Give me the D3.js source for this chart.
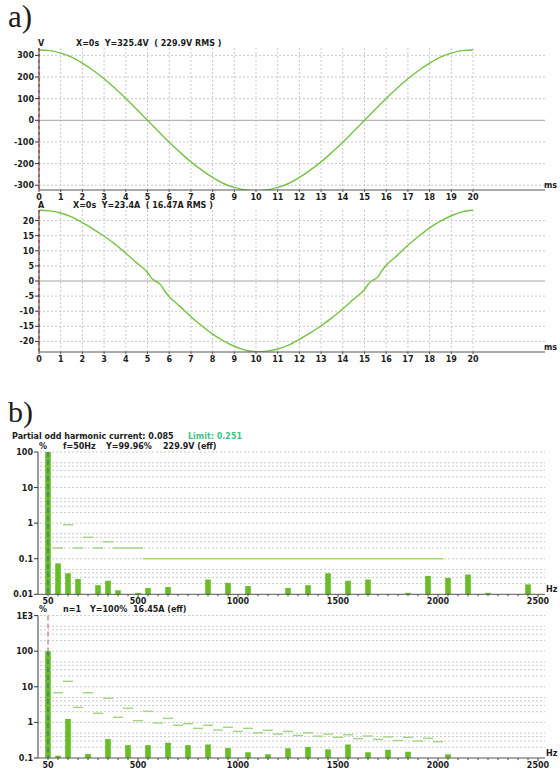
<!DOCTYPE html>
<html>
<head>
<meta charset="utf-8">
<script src="https://cdn.jsdelivr.net/npm/d3@7"></script>
<style>
  html, body { margin: 0; padding: 0; background: #fff; }
  svg { display: block; }
  text { font-family: "DejaVu Sans", Verdana, sans-serif; }
</style>
</head>
<body>
<svg id="chart" width="560" height="769"></svg>
<script>
// ---- waveform data (one mains period, 20 ms) ----
const voltageTimeMs = [0,0.5,1,1.5,2,2.5,3,3.5,4,4.5,5,5.5,6,6.5,7,7.5,8,8.5,9,9.5,10,
  10.5,11,11.5,12,12.5,13,13.5,14,14.5,15,15.5,16,16.5,17,17.5,18,18.5,19,19.5,20];
const voltageV = [325,322,310,292,264,230,192,148,101,51,0,-51,-101,-148,-192,-230,-264,-292,-310,-322,-325,
  -322,-310,-292,-264,-230,-192,-148,-101,-51,0,51,101,148,192,230,264,292,310,322,325];

const currentTimeMs = [0,0.5,1,1.5,2,2.5,3,3.5,4,4.5,5,5.2,5.4,5.6,5.8,6,6.5,7,7.5,8,8.5,9,9.5,10,
  10.5,11,11.5,12,12.5,13,13.5,14,14.5,15,15.2,15.4,15.6,15.8,16,16.5,17,17.5,18,18.5,19,19.5,20];
const currentA = [23.4,23.2,22.5,21.2,19.3,17.2,14.8,12.2,9.2,6.0,2.8,0.8,-0.2,-1.2,-3.4,-5.2,-8.4,-11.8,-14.8,-17.6,-19.8,-21.6,-22.9,-23.4,
  -23.2,-22.5,-21.2,-19.3,-17.2,-14.8,-12.2,-9.2,-6.0,-2.8,-0.8,0.3,1.2,3.4,5.2,8.4,11.8,14.8,17.6,19.8,21.6,22.9,23.4];

const msTicks = [0,1,2,3,4,5,6,7,8,9,10,11,12,13,14,15,16,17,18,19,20];
const voltageTicks = [300,200,100,0,-100,-200,-300];
const currentTicks = [20,15,10,5,0,-5,-10,-15,-20];

// ---- harmonic spectra (% of fundamental) ----
const voltageHarmHz = [50,100,150,200,300,350,400,500,550,650,850,950,1050,1250,1350,1450,1550,1650,1850,1950,2050,2150,2250,2450];
const voltageHarmPct = [99.96,0.074,0.039,0.027,0.018,0.024,0.013,0.011,0.015,0.016,0.026,0.021,0.017,0.015,0.018,0.039,0.024,0.026,0.011,0.033,0.029,0.036,0.011,0.019];
const voltageLimitHz = [100,150,200,250,300,350,400,450,500,550,600,650,700,750,800,850,900,950,1000,
  1050,1100,1150,1200,1250,1300,1350,1400,1450,1500,1550,1600,1650,1700,1750,1800,1850,1900,1950,2000];
const voltageLimitPct = [0.2,0.9,0.2,0.4,0.2,0.3,0.2,0.2,0.2,0.1,0.1,0.1,0.1,0.1,0.1,0.1,0.1,0.1,0.1,
  0.1,0.1,0.1,0.1,0.1,0.1,0.1,0.1,0.1,0.1,0.1,0.1,0.1,0.1,0.1,0.1,0.1,0.1,0.1,0.1];

const currentHarmHz = [50,100,150,250,350,450,550,650,750,850,950,1050,1150,1250,1350,1450,1550,1650,1750,1850,2050];
const currentHarmPct = [100,0.116,1.25,0.13,0.34,0.23,0.23,0.27,0.23,0.24,0.19,0.145,0.127,0.187,0.204,0.175,0.24,0.145,0.17,0.15,0.127];
const currentLimitHz = voltageLimitHz;
const currentLimitPct = [6.8,14.3,2.65,6.8,1.8,4.75,1.39,2.49,1.12,2.05,0.96,1.30,0.83,0.92,0.68,0.83,0.61,0.73,0.56,
  0.68,0.51,0.60,0.47,0.56,0.43,0.51,0.41,0.47,0.38,0.45,0.35,0.415,0.335,0.39,0.31,0.38,0.30,0.36,0.287];

const hzTicks = [50,500,1000,1500,2000,2500];
const spectrumVLabels = [[100,"100"],[10,"10"],[1,"1"],[0.1,"0.1"],[0.01,"0.01"]];
const spectrumILabels = [[1000,"1E3"],[100,"100"],[10,"10"],[1,"1"],[0.1,"0.1"]];

// ---- styles ----
const C = {
  text: "#1c1c1c",
  axis: "#555",
  grid: "#c9c9c9",
  zero: "#a3a3a3",
  wave: "#76c343",
  bar: "#68bd27",
  limit: "#a3d57e",
  cursorRed: "#c62020",
  cursorPink: "#cf9090",
  cursorBlue: "#3b7d9c",
  limitText: "#3ec487"
};
const serif = "'Liberation Serif', 'Times New Roman', Times, 'DejaVu Serif', serif";
const svg = d3.select("#chart");
const plotRight = 545;

function label(g, x, y, txt, opts = {}) {
  const t = g.append("text").attr("x", x).attr("y", y).text(txt)
    .attr("font-size", opts.size || 8).attr("font-weight", opts.weight || "bold")
    .attr("fill", opts.fill || C.text).attr("text-anchor", opts.anchor || "start");
  if (opts.family) t.style("font-family", opts.family);
  return t;
}

// ---------- part a: time waveforms ----------
label(svg, 8, 27, "a)", { size: 31, weight: "normal", family: serif });

const xT = d3.scaleLinear().domain([0, 20]).range([39, 473]);

function waveformPanel(cfg) {
  const g = svg.append("g");
  const y = cfg.y;
  const [yBot, yTop] = y.range();
  // grid
  g.selectAll(".vg").data(msTicks.filter(d => d > 0)).join("line")
    .attr("x1", d => xT(d)).attr("x2", d => xT(d)).attr("y1", yTop).attr("y2", yBot)
    .attr("stroke", C.grid).attr("stroke-dasharray", "2,2");
  g.selectAll(".hg").data(cfg.ticks.filter(d => d !== 0)).join("line")
    .attr("x1", xT(0)).attr("x2", plotRight).attr("y1", d => y(d)).attr("y2", d => y(d))
    .attr("stroke", C.grid).attr("stroke-dasharray", "2,2");
  g.append("line").attr("x1", xT(0)).attr("x2", plotRight).attr("y1", y(0)).attr("y2", y(0))
    .attr("stroke", C.zero);
  // waveform, clipped to the plot area
  const clipId = "clip" + cfg.id;
  svg.append("clipPath").attr("id", clipId).append("rect")
    .attr("x", xT(0)).attr("y", yTop - 4).attr("width", plotRight - xT(0)).attr("height", yBot - yTop + 4);
  const line = d3.line().x(d => xT(d[0])).y(d => y(d[1])).curve(d3.curveMonotoneX);
  g.append("path").datum(d3.zip(cfg.t, cfg.v)).attr("d", line)
    .attr("fill", "none").attr("stroke", C.wave).attr("stroke-width", 1.4)
    .attr("clip-path", `url(#${clipId})`);
  // axes
  g.append("line").attr("x1", xT(0)).attr("x2", plotRight).attr("y1", yBot).attr("y2", yBot)
    .attr("stroke", C.axis);
  g.append("line").attr("x1", xT(0)).attr("x2", xT(0)).attr("y1", yTop).attr("y2", yBot)
    .attr("stroke", "#333");
  g.append("line").attr("x1", xT(0)).attr("x2", xT(0)).attr("y1", yTop).attr("y2", yBot)
    .attr("stroke", C.cursorRed).attr("stroke-dasharray", "3,3");
  g.selectAll(".yt").data(cfg.ticks).join("line")
    .attr("x1", xT(0) - 4).attr("x2", xT(0)).attr("y1", d => y(d)).attr("y2", d => y(d))
    .attr("stroke", "#333");
  g.selectAll(".yl").data(cfg.ticks).join("text")
    .attr("x", xT(0) - 5).attr("y", d => y(d) + 3).attr("text-anchor", "end")
    .attr("font-size", 8).attr("font-weight", "bold").attr("fill", C.text)
    .text(d => d);
  g.selectAll(".xt").data(msTicks).join("line")
    .attr("x1", d => xT(d)).attr("x2", d => xT(d)).attr("y1", yBot).attr("y2", yBot + 2)
    .attr("stroke", C.axis);
  g.selectAll(".xl").data(msTicks).join("text")
    .attr("x", d => xT(d)).attr("y", yBot + 9.5).attr("text-anchor", "middle")
    .attr("font-size", 8).attr("font-weight", "bold").attr("fill", C.text)
    .text(d => d);
  label(g, 544, yBot - 2, "ms");
  label(g, 38, cfg.headY, cfg.unit);
  label(g, cfg.headX, cfg.headY, cfg.head).style("white-space", "pre");
}

waveformPanel({
  id: "V", y: d3.scaleLinear().domain([-322, 334]).range([190, 48]),
  ticks: voltageTicks, t: voltageTimeMs, v: voltageV,
  unit: "V", head: "X=0s  Y=325.4V  ( 229.9V RMS )", headX: 76, headY: 46
});
waveformPanel({
  id: "I", y: d3.scaleLinear().domain([-23.5, 23.5]).range([352, 210]),
  ticks: currentTicks, t: currentTimeMs, v: currentA,
  unit: "A", head: "X=0s  Y=23.4A  ( 16.47A RMS )", headX: 73, headY: 207.5
});

// ---------- part b: harmonic spectra ----------
label(svg, 8, 422, "b)", { size: 30, weight: "normal", family: serif });
label(svg, 12, 439, "Partial odd harmonic current: 0.085");
label(svg, 188, 439, "Limit: 0.251", { fill: C.limitText });

const xF = d3.scaleLinear().domain([0, 2535]).range([38, plotRight]);
const minorHz = d3.range(50, 2501, 50);
const barHalf = 2.8;

function spectrumPanel(cfg) {
  const g = svg.append("g");
  const y = cfg.y;
  const [yBot, yTop] = y.range();
  // grid at 1..5 x 10^k
  const gridVals = y.ticks().filter(v => {
    const m = v / Math.pow(10, Math.floor(Math.log10(v) + 1e-9));
    return m < 5.5;
  });
  g.selectAll(".hg").data(gridVals.filter(v => v > y.domain()[0] * 1.01)).join("line")
    .attr("x1", xF(0) + 2).attr("x2", plotRight).attr("y1", d => y(d)).attr("y2", d => y(d))
    .attr("stroke", C.grid).attr("stroke-dasharray", "2,2");
  // limit segments
  g.selectAll(".lim").data(d3.zip(cfg.limHz, cfg.limPct)).join("line")
    .attr("x1", d => xF(d[0] - 25)).attr("x2", d => xF(d[0] + 25))
    .attr("y1", d => y(d[1])).attr("y2", d => y(d[1]))
    .attr("stroke", C.limit).attr("stroke-width", 1.4);
  // bars
  g.selectAll(".bar").data(d3.zip(cfg.hz, cfg.pct)).join("rect")
    .attr("x", d => xF(d[0]) - barHalf).attr("width", barHalf * 2)
    .attr("y", d => y(d[1])).attr("height", d => yBot - y(d[1]))
    .attr("fill", C.bar);
  // cursor at the fundamental
  const fx = xF(cfg.hz[0]);
  const fTop = y(cfg.pct[0]);
  if (fTop > yTop + 1) {
    g.append("line").attr("x1", fx).attr("x2", fx).attr("y1", yTop).attr("y2", fTop)
      .attr("stroke", C.cursorPink).attr("stroke-width", 1.5).attr("stroke-dasharray", "5,3");
  }
  g.append("line").attr("x1", fx).attr("x2", fx).attr("y1", fTop).attr("y2", yBot)
    .attr("stroke", C.cursorBlue).attr("stroke-width", 1.5).attr("stroke-dasharray", "5,3");
  // axes
  g.append("line").attr("x1", xF(0)).attr("x2", xF(0)).attr("y1", yTop).attr("y2", yBot)
    .attr("stroke", "#7a7a7a").attr("stroke-width", 1.5);
  g.append("line").attr("x1", xF(0)).attr("x2", plotRight).attr("y1", yBot).attr("y2", yBot)
    .attr("stroke", C.axis);
  g.selectAll(".xt").data(minorHz).join("line")
    .attr("x1", d => xF(d)).attr("x2", d => xF(d)).attr("y1", yBot).attr("y2", d => yBot + (d % 500 === 0 ? 3 : 2))
    .attr("stroke", "#444");
  g.selectAll(".xl").data(hzTicks).join("text")
    .attr("x", d => xF(d)).attr("y", yBot + 10).attr("text-anchor", "middle")
    .attr("font-size", 8).attr("font-weight", "bold").attr("fill", C.text)
    .text(d => d);
  g.selectAll(".yt").data(cfg.labels).join("line")
    .attr("x1", xF(0) - 4).attr("x2", xF(0)).attr("y1", d => y(d[0])).attr("y2", d => y(d[0]))
    .attr("stroke", "#333");
  g.selectAll(".yl").data(cfg.labels).join("text")
    .attr("x", xF(0) - 5).attr("y", d => y(d[0]) + 3).attr("text-anchor", "end")
    .attr("font-size", 8).attr("font-weight", "bold").attr("fill", C.text)
    .text(d => d[1]);
  label(g, 546, yBot - 2, "Hz");
  label(g, 39, cfg.headY, "%");
  cfg.head.forEach(([x, t]) => label(g, x, cfg.headY, t));
}

spectrumPanel({
  y: d3.scaleLog().domain([0.01, 100]).range([594.3, 452]),
  hz: voltageHarmHz, pct: voltageHarmPct, limHz: voltageLimitHz, limPct: voltageLimitPct,
  labels: spectrumVLabels, headY: 449,
  head: [[63, "f=50Hz"], [106, "Y=99.96%"], [163, "229.9V (eff)"]]
});
spectrumPanel({
  y: d3.scaleLog().domain([0.1, 1000]).range([758, 615.6]),
  hz: currentHarmHz, pct: currentHarmPct, limHz: currentLimitHz, limPct: currentLimitPct,
  labels: spectrumILabels, headY: 612,
  head: [[63, "n=1"], [90, "Y=100%"], [133, "16.45A (eff)"]]
});
</script>
</body>
</html>
